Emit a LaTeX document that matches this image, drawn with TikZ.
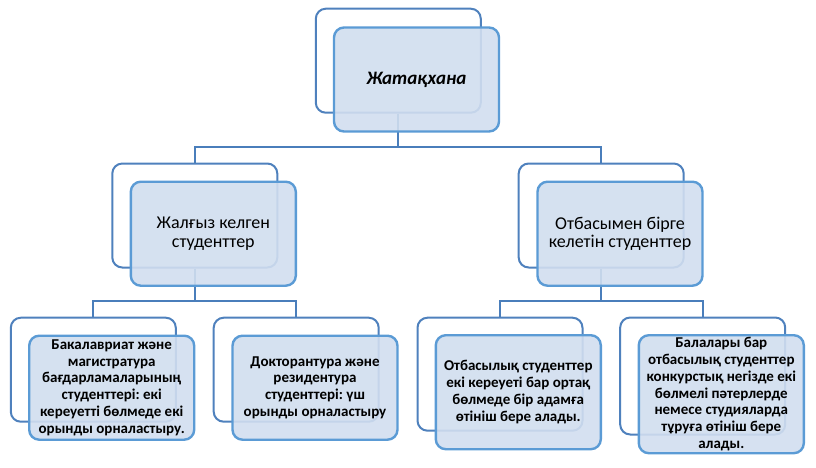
\documentclass[tikz,border=0pt]{standalone}
\usepackage{fontspec}
\setmainfont{Carlito}
\frenchspacing
\definecolor{connblue}{HTML}{4A7EBB}
\definecolor{backblue}{HTML}{4F81BD}
\definecolor{frontblue}{HTML}{5B9BD5}
\definecolor{fillblue}{RGB}{209,222,239}
\tikzset{
  conn/.style={draw=connblue, line width=2pt},
  backbox/.style={draw=backblue, line width=2pt, fill=white, rounded corners=10pt,
    rectangle, minimum width=165pt, minimum height=104pt, inner sep=0pt},
  frontbox/.style={draw=frontblue, line width=2.4pt, fill=fillblue, fill opacity=0.9,
    text opacity=1, rounded corners=10pt, rectangle, minimum width=165pt,
    minimum height=104pt, inner sep=0pt, align=center, text=black},
  toptext/.style={font=\fontsize{19}{22}\selectfont\bfseries\itshape},
  midtext/.style={font=\fontsize{18}{18.5}\selectfont},
  lowtext/.style={font=\fontsize{15}{16.8}\selectfont\bfseries},
}
\begin{document}
\begin{tikzpicture}[x=1pt,y=-1pt]
\useasboundingbox (0,0) rectangle (816,467);
% junction coordinates
\coordinate (j0) at (398.3,147);
\coordinate (j1) at (194.8,301);
\coordinate (j2) at (601.2,301);
% back boxes
\node[backbox] (b0) at (398.3,60.7) {};
\node[backbox] (b1) at (194.8,215.5) {};
\node[backbox] (b2) at (601.2,215.5) {};
\node[backbox] (c1) at (93.3,369.7) {};
\node[backbox] (c2) at (296.2,369.7) {};
\node[backbox, minimum height=113pt] (c3) at (500,374.2) {};
\node[backbox, minimum height=117pt] (c4) at (702.7,376) {};
% connectors
\draw[conn] (b0.south) -- (j0);
\draw[conn] (b1.north) |- (j0) -| (b2.north);
\draw[conn] (b1.south) -- (j1);
\draw[conn] (c1.north) |- (j1) -| (c2.north);
\draw[conn] (b2.south) -- (j2);
\draw[conn] (c3.north) |- (j2) -| (c4.north);
% front boxes
\node[frontbox, toptext] (f0) at (416.5,79.5) {Жатақхана};
\node[frontbox, midtext] (f1) at (213.3,233.7) {Жалғыз келген\\студенттер};
\node[frontbox, midtext] (f2) at (620,233.7) {Отбасымен бірге\\келетін студенттер};
\node[frontbox, lowtext] (g1) at (111.7,387.7) {Бакалавриат және\\магистратура\\бағдарламаларының\\студенттері: екі\\кереуетті бөлмеде екі\\орынды орналастыру.};
\node[frontbox, lowtext] (g2) at (315,387.7) {Докторантура және\\резидентура\\студенттері: үш\\орынды орналастыру};
\node[frontbox, lowtext, minimum height=114pt] (g3) at (518.3,392.2) {Отбасылық студенттер\\екі кереуеті бар ортақ\\бөлмеде бір адамға\\өтініш бере алады.};
\node[frontbox, lowtext, minimum height=118pt] (g4) at (721.3,394.2) {Балалары бар\\отбасылық студенттер\\конкурстық негізде екі\\бөлмелі пәтерлерде\\немесе студияларда\\тұруға өтініш бере\\алады.};
\end{tikzpicture}
\end{document}
